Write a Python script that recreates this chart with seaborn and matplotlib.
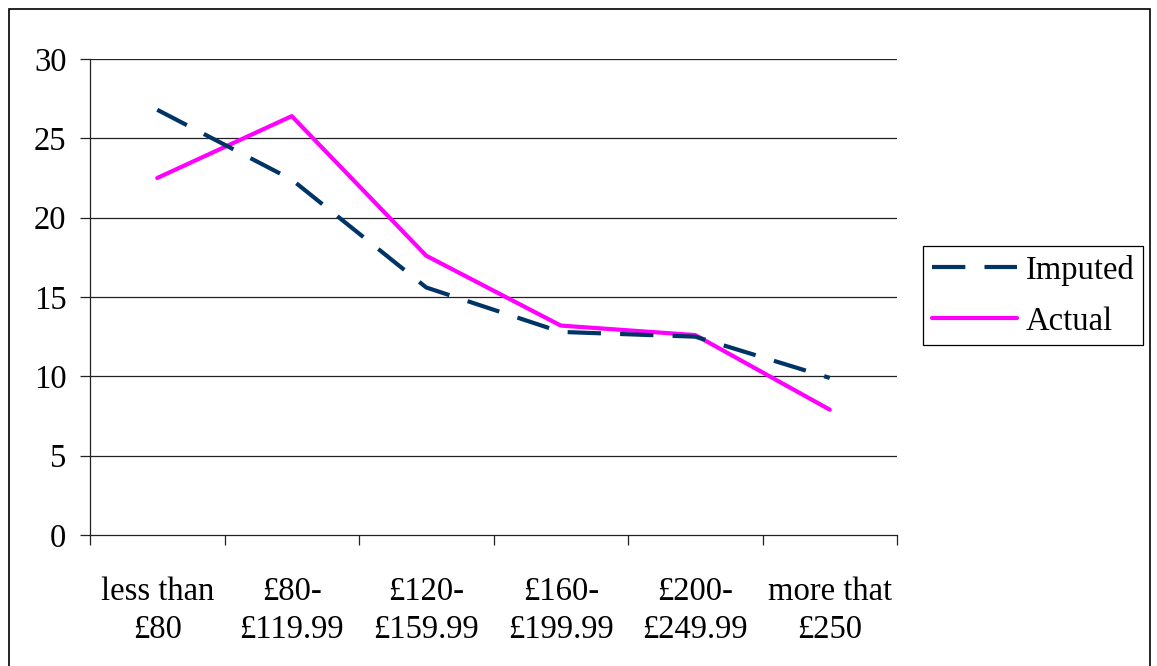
import matplotlib
matplotlib.use("Agg")
import matplotlib.pyplot as plt
import seaborn as sns
import pandas as pd
from matplotlib.patches import Rectangle
from matplotlib.lines import Line2D

# Weekly price bands and the share (%) falling into each band
categories = ["less than\n£80", "£80-\n£119.99", "£120-\n£159.99",
              "£160-\n£199.99", "£200-\n£249.99", "more that\n£250"]
imputed = [26.8, 22.4, 15.6, 12.8, 12.5, 9.9]
actual = [22.5, 26.4, 17.6, 13.2, 12.6, 7.9]
y_ticks = [0, 5, 10, 15, 20, 25, 30]

sns.set_theme(style="white")
plt.rcParams["font.family"] = ["Liberation Serif", "DejaVu Serif"]
plt.rcParams["text.color"] = "black"
plt.rcParams["xtick.color"] = "black"
plt.rcParams["ytick.color"] = "black"
FS = 23.5

W, H, DPI = 1157, 666, 100
fig = plt.figure(figsize=(W / DPI, H / DPI), dpi=DPI)
fig.patch.set_facecolor("white")

# plot area in pixel bounds
x0, x1, y0, y1 = 90, 897, 59, 535
ax = fig.add_axes([x0 / W, 1 - y1 / H, (x1 - x0) / W, (y1 - y0) / H])

pos = list(range(len(categories)))
df = pd.DataFrame({
    "pos": pos * 2,
    "value": imputed + actual,
    "series": ["Imputed"] * len(pos) + ["Actual"] * len(pos),
})

navy = "#003366"
magenta = "#FF00FF"
lw = 3.0
dash = (8.0, 4.6)

sns.lineplot(data=df[df.series == "Imputed"], x="pos", y="value", ax=ax,
             color=navy, lw=lw, legend=False)
sns.lineplot(data=df[df.series == "Actual"], x="pos", y="value", ax=ax,
             color=magenta, lw=lw, legend=False)
imp_line, act_line = ax.lines[0], ax.lines[1]
imp_line.set_dashes(dash)
imp_line.set_dash_capstyle("butt")
act_line.set_solid_capstyle("round")
act_line.set_zorder(3)
imp_line.set_zorder(4)

ax.set_xlim(-0.5, len(categories) - 0.5)
ax.set_ylim(0, 30)
ax.set_xlabel("")
ax.set_ylabel("")

# horizontal gridlines
for t in y_ticks[1:]:
    ax.axhline(t, color="#222222", lw=0.9, zorder=1)

ax.set_yticks(y_ticks)
ax.set_yticklabels([str(t) for t in y_ticks])
ax.set_xticks(pos)
ax.set_xticklabels(categories, linespacing=1.3)
ax.set_xticks([p - 0.5 for p in pos] + [len(pos) - 0.5], minor=True)

ax.tick_params(axis="y", which="major", direction="out", length=7, width=0.9,
               color="#222222", pad=10, left=True, labelsize=FS,
               labelcolor="black")
ax.tick_params(axis="x", which="major", length=0, pad=30, labelsize=FS,
               labelcolor="black")
ax.tick_params(axis="x", which="minor", direction="out", length=7, width=0.9,
               color="#222222", bottom=True)

for s in ["top", "right"]:
    ax.spines[s].set_visible(False)
for s in ["left", "bottom"]:
    ax.spines[s].set_color("#222222")
    ax.spines[s].set_linewidth(0.9)
ax.set_facecolor("white")

# legend
handles = [Line2D([], [], color=navy, lw=lw, dashes=dash, dash_capstyle="butt"),
           Line2D([], [], color=magenta, lw=lw, solid_capstyle="round")]
leg = fig.legend(handles, ["Imputed", "Actual"], loc="upper left",
                 bbox_to_anchor=(923 / W, 1 - 246 / H), fontsize=FS,
                 frameon=True, fancybox=False, framealpha=1, edgecolor="black",
                 handlelength=2.6, handletextpad=0.28, borderpad=0.27,
                 labelspacing=0.62, borderaxespad=0)
leg.get_frame().set_linewidth(0.9)
for txt in leg.get_texts():
    txt.set_color("black")

# outer chart border
fig.add_artist(Rectangle((9 / W, -0.1), (1150 - 9) / W, 1 - 9 / H + 0.1,
                         transform=fig.transFigure, fill=False,
                         edgecolor="black", lw=1.2, clip_on=False))

fig.savefig("out.png", dpi=DPI, facecolor="white")
